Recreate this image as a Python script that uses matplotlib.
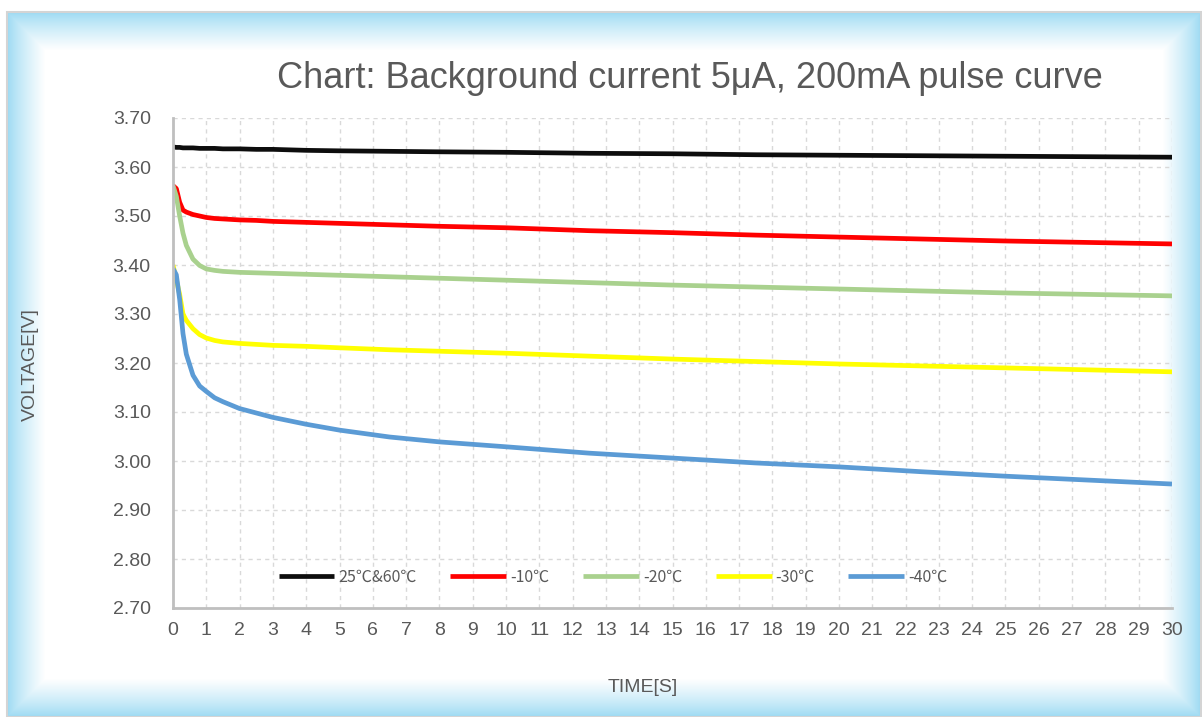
import matplotlib
matplotlib.use("Agg")
import matplotlib.pyplot as plt
import numpy as np

# --- dados ---
tempo = [0, 0.1, 0.2, 0.3, 0.4, 0.6, 0.8, 1, 1.25, 1.5, 2, 2.5, 3, 4, 5,
         6.5, 8, 10, 12.5, 15, 17.5, 20, 22.5, 25, 27.5, 30]

v_25_60 = [3.641, 3.640, 3.640, 3.639, 3.639, 3.639, 3.638, 3.638, 3.638, 3.637,
           3.637, 3.636, 3.636, 3.634, 3.633, 3.632, 3.631, 3.630, 3.628, 3.627,
           3.625, 3.624, 3.623, 3.622, 3.621, 3.620]
v_m10 = [3.562, 3.556, 3.528, 3.512, 3.508, 3.503, 3.500, 3.497, 3.495, 3.494,
         3.492, 3.491, 3.489, 3.487, 3.485, 3.482, 3.479, 3.476, 3.470, 3.466,
         3.461, 3.457, 3.453, 3.449, 3.446, 3.443]
v_m20 = [3.562, 3.540, 3.500, 3.465, 3.440, 3.412, 3.399, 3.392, 3.389, 3.387,
         3.385, 3.384, 3.383, 3.381, 3.379, 3.376, 3.373, 3.369, 3.364, 3.359,
         3.355, 3.351, 3.347, 3.343, 3.340, 3.337]
v_m30 = [3.400, 3.370, 3.340, 3.300, 3.287, 3.270, 3.258, 3.251, 3.246, 3.243,
         3.240, 3.238, 3.236, 3.234, 3.231, 3.227, 3.224, 3.220, 3.214, 3.208,
         3.203, 3.198, 3.194, 3.190, 3.186, 3.182]
v_m40 = [3.393, 3.380, 3.330, 3.260, 3.218, 3.175, 3.153, 3.142, 3.129, 3.121,
         3.107, 3.098, 3.089, 3.075, 3.063, 3.049, 3.039, 3.029, 3.016, 3.006,
         2.996, 2.988, 2.978, 2.969, 2.961, 2.953]

series = [v_25_60, v_m10, v_m20, v_m30, v_m40]
labels = ["25℃&60℃", "-10℃", "-20℃", "-30℃", "-40℃"]
cores = ["#0d0d0d", "#ff0000", "#a9d18e", "#ffff00", "#5b9bd5"]

y_ticks = [2.70, 2.80, 2.90, 3.00, 3.10, 3.20, 3.30, 3.40, 3.50, 3.60, 3.70]
x_ticks = list(range(0, 31))

W, H = 1202, 717
fig = plt.figure(figsize=(W / 100, H / 100), dpi=100)
fonte = ["Liberation Sans", "DejaVu Sans"]

# --- moldura com degradê azul claro ---
bg = fig.add_axes([0, 0, 1, 1], zorder=-10)
bg.set_xlim(0, W)
bg.set_ylim(H, 0)
bg.axis("off")
x0, x1, y0, y1 = 7, 1201, 12, 717
xx, yy = np.meshgrid(np.arange(x0, x1) + 0.5, np.arange(y0, y1) + 0.5)
d = np.minimum.reduce([xx - x0, x1 - xx, yy - y0, y1 - yy])
t = np.clip(d / 38.0, 0, 1) ** 0.8
borda = np.array([0.60, 0.85, 0.95])
img = borda[None, None, :] * (1 - t[..., None]) + np.ones(3)[None, None, :] * t[..., None]
bg.imshow(img, extent=(x0, x1, y1, y0), interpolation="bilinear", aspect="auto")
bg.add_patch(plt.Rectangle((x0, y0), x1 - x0, y1 - y0, fill=False,
                           edgecolor="#d4d4d4", linewidth=1.5))

# --- gráfico principal ---
ax = fig.add_axes([173 / W, 1 - 608 / H, (1172 - 173) / W, (608 - 118) / H])
ax.set_facecolor("none")

for vals, lab, cor in zip(series, labels, cores):
    ax.plot(tempo, vals, color=cor, linewidth=3.4, label=lab,
            solid_capstyle="butt", solid_joinstyle="round")

ax.set_xlim(0, 30)
ax.set_ylim(2.70, 3.70)
ax.set_xticks(x_ticks)
ax.set_yticks(y_ticks)
ax.set_yticklabels([f"{v:.2f}" for v in y_ticks])
ax.tick_params(axis="both", length=0, labelsize=14, labelcolor="#595959")
ax.tick_params(axis="y", pad=16)
ax.tick_params(axis="x", pad=10)
for lbl in ax.get_xticklabels() + ax.get_yticklabels():
    lbl.set_family(fonte)

ax.grid(True, color="#d9d9d9", linestyle=(0, (3, 3)), linewidth=1)
for lado in ["top", "right"]:
    ax.spines[lado].set_visible(False)
for lado in ["left", "bottom"]:
    ax.spines[lado].set_color("#bfbfbf")
    ax.spines[lado].set_linewidth(2)

leg = ax.legend(loc="center", bbox_to_anchor=(613 / W, 1 - 577 / H),
                bbox_transform=fig.transFigure, ncol=5, frameon=False,
                handlelength=3.5, handletextpad=0.25, columnspacing=2.1,
                prop={"family": ["Noto Sans CJK SC", "DejaVu Sans"], "size": 11.5})
for txt in leg.get_texts():
    txt.set_color("#595959")

fig.text(690 / W, 1 - 78 / H, "Chart: Background current 5μA, 200mA pulse curve",
         ha="center", va="center", fontsize=26, color="#595959", family=fonte)
fig.text(30 / W, 1 - 365 / H, "VOLTAGE[V]", rotation=90, ha="center", va="center",
         fontsize=14, color="#595959", family=fonte)
fig.text(643 / W, 1 - 688 / H, "TIME[S]", ha="center", va="center",
         fontsize=14, color="#595959", family=fonte)

fig.savefig("out.png", dpi=100)
